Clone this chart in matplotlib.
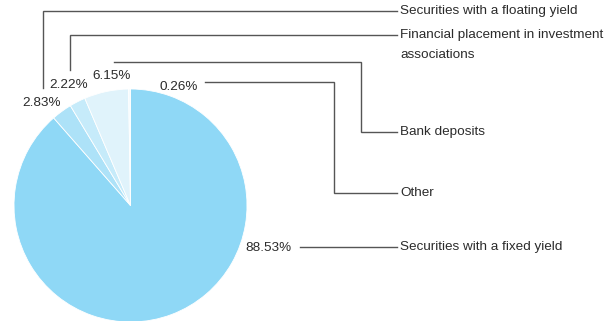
import matplotlib
matplotlib.use("Agg")
import matplotlib.pyplot as plt

plt.rcParams['font.family'] = ['Liberation Sans', 'DejaVu Sans']

# portfolio structure, clockwise from 12 o'clock
categories = ["Securities with a fixed yield",
              "Securities with a floating yield",
              "Financial placement in investment\nassociations",
              "Bank deposits",
              "Other"]
shares = [88.53, 2.83, 2.22, 6.15, 0.26]
colors = ["#8fd8f6", "#ade2f8", "#c6ebfa", "#e0f3fb", "#f4fbfe"]

W, H = 614, 321
fig = plt.figure(figsize=(W / 100, H / 100), dpi=100)
ax = fig.add_axes([0, 0, 1, 1])
ax.set_xlim(0, W)
ax.set_ylim(H, 0)
ax.axis('off')

# pie in its own axes, same pixel coords but y pointing up
cx, cy, r = 130.5, 205.5, 116.5
pax = fig.add_axes([0, 0, 1, 1])
pax.pie(shares, colors=colors, startangle=90, counterclock=False,
        center=(cx, H - cy), radius=r, frame=True,
        wedgeprops=dict(edgecolor='white', linewidth=0.6))
pax.set_xlim(0, W)
pax.set_ylim(0, H)
pax.axis('off')

txt = '#2b2b2b'
ln = '#555555'
fs = 9.7

# value labels next to the wedges
pct_pos = [(268, 248), (42, 103), (69, 85), (112, 76), (179, 87)]
for v, (x, y) in zip(shares, pct_pos):
    ax.text(x, y, f"{v:.2f}%", ha='center', va='center', fontsize=fs, color=txt)

# leader lines to the category names
leaders = [
    [(300, 247), (397, 247)],
    [(43, 88), (43, 11), (397, 11)],
    [(70, 70), (70, 35), (397, 35)],
    [(114, 62), (361, 62), (361, 132), (397, 132)],
    [(205, 82), (334, 82), (334, 193), (397, 193)],
]
for pts in leaders:
    xs, ys = zip(*pts)
    ax.plot(xs, ys, color=ln, lw=1.0, solid_joinstyle='miter')

name_y = [247, 11, 35, 132, 193]
for name, y in zip(categories, name_y):
    for i, part in enumerate(name.split("\n")):
        ax.text(400, y + i * 20, part, ha='left', va='center',
                fontsize=fs, color=txt)

fig.savefig('out.png', dpi=100)
